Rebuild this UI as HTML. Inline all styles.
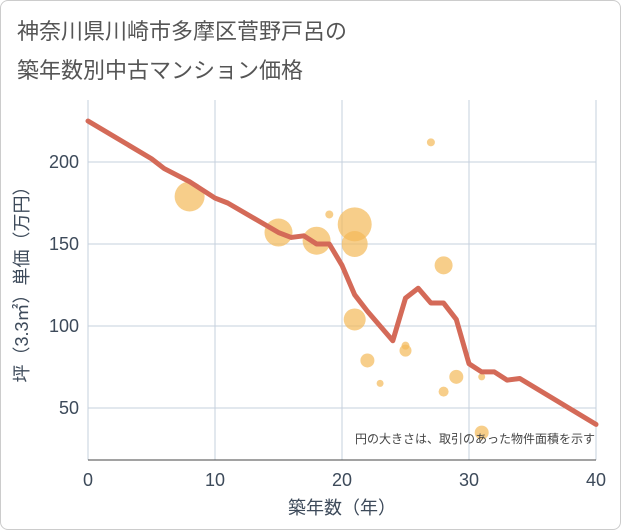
<!DOCTYPE html>
<html><head><meta charset="utf-8"><style>
body{margin:0;background:#fff;font-family:"Liberation Sans","Noto Sans CJK JP",sans-serif}
#wrap{position:relative;width:619px;height:528px;border:1px solid #ccc;border-radius:8px;overflow:hidden}
</style></head><body>
<div id="wrap">
<svg id="chart" width="621" height="530" style="position:absolute;left:-1px;top:-1px">
<text x="17" y="39" font-size="22" fill="#555">神奈川県川崎市多摩区菅野戸呂の</text>
<text x="17" y="78" font-size="22" fill="#555">築年数別中古マンション価格</text>
<g id="grid"></g><g id="bubbles"></g><g id="line"></g><g id="axes"></g>
<text x="595" y="443" font-size="12" fill="#444" text-anchor="end">円の大きさは、取引のあった物件面積を示す</text>
<text x="342" y="514" font-size="18" fill="#3d4a5a" text-anchor="middle">築年数（年）</text>
<text transform="translate(28,280) rotate(-90)" font-size="18" fill="#3d4a5a" text-anchor="middle">坪（3.3㎡）単価（万円）</text>
</svg>
</div>
<script>
const lineYears=[0,5,6,8,10,11,15,16,17,18,19,20,21,22,23,24,25,26,27,28,29,30,31,32,33,34,40];
const linePrices=[225,202,196,188,178,175,157,154,155,150,150,137,119,109,100,91,117,123,114,114,104,77,72,72,67,68,40];
const bubbleYears=[8,15,18,19,21,21,21,22,23,25,25,27,28,28,29,31,31];
const bubblePrices=[179,157,152,168,162,150,104,79,65,85,88,212,137,60,69,69,35];
const bubbleSizes=[15,14,14,4,17,13,11,7,3.5,6,4,4,9,5,7,3.5,7];
const xTicks=[0,10,20,30,40];
const yTicks=[50,100,150,200];
const X0=88,X1=596,Y0=460,Y1=100;
const xs=v=>X0+(v-0)/40*(X1-X0);
const ys=v=>490-v*1.64;
const NS="http://www.w3.org/2000/svg";
function mk(tag,attrs,parent){const e=document.createElementNS(NS,tag);for(const k in attrs)e.setAttribute(k,attrs[k]);parent.appendChild(e);return e;}
const grid=document.getElementById('grid'),axes=document.getElementById('axes');
xTicks.forEach(t=>{
 const l=mk('line',{x1:xs(t),x2:xs(t),y1:Y1,y2:Y0,stroke:'#c5d0de','stroke-width':1},grid);
 
 
 const tx=mk('text',{x:xs(t),y:Y0+26,'font-size':18,fill:'#3d4a5a','text-anchor':'middle'},axes);
 tx.textContent=t;
 
 
});
yTicks.forEach(t=>{
 const l=mk('line',{x1:X0,x2:X1,y1:ys(t),y2:ys(t),stroke:'#c5d0de','stroke-width':1},grid);
 
 
 const tx=mk('text',{x:X0-9,y:ys(t)+6,'font-size':18,fill:'#3d4a5a','text-anchor':'end'},axes);
 tx.textContent=t;
 
 
});
const ax=mk('line',{x1:X0,x2:X1,y1:Y0,y2:Y0,stroke:'#444','stroke-width':1},axes);


const bg=document.getElementById('bubbles');
bubbleYears.forEach((y,i)=>{
 const c=mk('circle',{cx:xs(y),cy:ys(bubblePrices[i]),r:bubbleSizes[i],fill:'#f3b959','fill-opacity':0.7},bg);
 
 
});
const p=mk('polyline',{points:lineYears.map((y,i)=>xs(y)+','+ys(linePrices[i])).join(' '),fill:'none',stroke:'#d46a58','stroke-width':5,'stroke-linejoin':'round','stroke-linecap':'round'},document.getElementById('line'));


</script>
</body></html>
